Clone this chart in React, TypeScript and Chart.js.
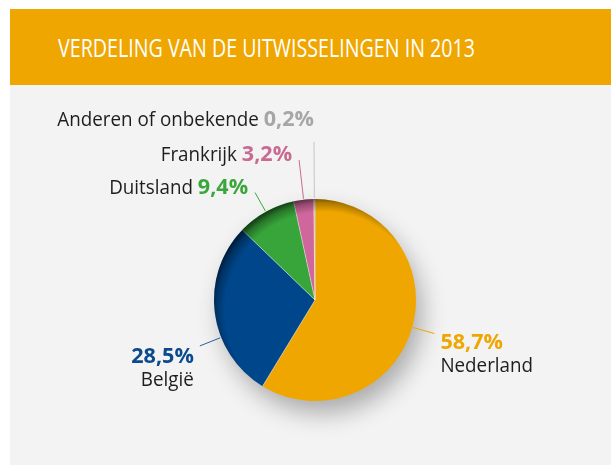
import React, { useEffect, useRef } from 'react';
import { Chart, registerables } from 'chart.js';
Chart.register(...registerables);

const countries = ['Nederland', 'België', 'Duitsland', 'Frankrijk', 'Anderen of onbekende'];
const shares = [58.7, 28.5, 9.4, 3.2, 0.2];
const shareLabels = ['58,7%', '28,5%', '9,4%', '3,2%', '0,2%'];
const sliceColors = ['#EFA600', '#00468B', '#37A53A', '#D0679C', '#B4B4B4'];
const shareTextColors = ['#EFA600', '#0B4A8C', '#3AA63C', '#C96A93', '#A6A6A6'];
const lineColors = ['#EFA600', '#2A5F9E', '#3AA63C', '#C96A93', '#C4C4C4'];
const titleText = 'VERDELING VAN DE UITWISSELINGEN IN 2013';

type Layout = { t: number; len: number; mode: string; dx: number; dy: number };
const labelLayout: Layout[] = [
  { t: 0.5, len: 23, mode: 'stackLeft', dx: 6, dy: 16 },
  { t: 0.36, len: 23, mode: 'stackRight', dx: -6, dy: 17 },
  { t: 0.5, len: 22, mode: 'inline', dx: -7, dy: 1 },
  { t: 0.5, len: 40, mode: 'inline', dx: -7, dy: 1 },
  { t: 0.5, len: 57, mode: 'inline', dx: 0, dy: -16 },
];

const FONT = '"Open Sans", "Noto Sans", sans-serif';
const regFont = `20px ${FONT}`;
const boldFont = `bold 22px ${FONT}`;
const regScale = 0.94;
const boldScale = 0.98;
const textDark = '#1E1E1E';

type Run = { text: string; font: string; color: string; sx: number };
function drawRuns(ctx: CanvasRenderingContext2D, runs: Run[], x: number, y: number, align: 'left' | 'right') {
  let total = 0;
  runs.forEach((r) => {
    ctx.font = r.font;
    total += ctx.measureText(r.text).width * r.sx;
  });
  let cx = align === 'right' ? x - total : x;
  ctx.textAlign = 'left';
  ctx.textBaseline = 'alphabetic';
  runs.forEach((r) => {
    ctx.font = r.font;
    ctx.fillStyle = r.color;
    ctx.save();
    ctx.translate(cx, y);
    ctx.scale(r.sx, 1);
    ctx.fillText(r.text, 0, 0);
    ctx.restore();
    cx += ctx.measureText(r.text).width * r.sx;
  });
}

const pieDecor = {
  id: 'pieDecor',
  beforeDatasetsDraw(chart: any) {
    const arc = chart.getDatasetMeta(0).data[0];
    if (!arc) return;
    const { x, y, outerRadius } = arc.getProps(['x', 'y', 'outerRadius'], true);
    const ctx = chart.ctx;
    ctx.save();
    ctx.shadowColor = 'rgba(0,0,0,0.3)';
    ctx.shadowBlur = 24;
    ctx.shadowOffsetX = 7;
    ctx.shadowOffsetY = 13;
    ctx.beginPath();
    ctx.arc(x, y, outerRadius - 1, 0, Math.PI * 2);
    ctx.fillStyle = '#d8d8d8';
    ctx.fill();
    ctx.restore();
  },
  afterDatasetsDraw(chart: any) {
    const meta = chart.getDatasetMeta(0);
    const ctx = chart.ctx;
    const first = meta.data[0];
    if (!first) return;
    const { x: cx, y: cy, outerRadius: r } = first.getProps(['x', 'y', 'outerRadius'], true);

    // separators
    ctx.save();
    ctx.strokeStyle = 'rgba(255,255,255,0.45)';
    ctx.lineWidth = 1;
    meta.data.forEach((a: any) => {
      const p = a.getProps(['startAngle'], true);
      ctx.beginPath();
      ctx.moveTo(cx, cy);
      ctx.lineTo(cx + r * Math.cos(p.startAngle), cy + r * Math.sin(p.startAngle));
      ctx.stroke();
    });
    ctx.restore();

    // rim shading
    ctx.save();
    ctx.beginPath();
    ctx.arc(cx, cy, r, 0, Math.PI * 2);
    ctx.clip();
    const gx = cx + 9, gy = cy + 11;
    const R = r + 13;
    const g = ctx.createRadialGradient(gx, gy, 0, gx, gy, R);
    g.addColorStop(0, 'rgba(0,0,0,0)');
    g.addColorStop(0.87, 'rgba(0,0,0,0)');
    g.addColorStop(0.95, 'rgba(0,0,0,0.28)');
    g.addColorStop(1, 'rgba(0,0,0,0.6)');
    ctx.fillStyle = g;
    ctx.fillRect(cx - r - 2, cy - r - 2, 2 * r + 4, 2 * r + 4);
    ctx.restore();

    // labels with leader lines
    ctx.save();
    meta.data.forEach((a: any, i: number) => {
      const L = labelLayout[i];
      const p = a.getProps(['startAngle', 'endAngle'], true);
      const ang = p.startAngle + (p.endAngle - p.startAngle) * L.t;
      const x1 = cx + (r + 1) * Math.cos(ang);
      const y1 = cy + (r + 1) * Math.sin(ang);
      const x2 = cx + (r + L.len) * Math.cos(ang);
      const y2 = cy + (r + L.len) * Math.sin(ang);
      ctx.strokeStyle = lineColors[i];
      ctx.lineWidth = 1;
      ctx.beginPath();
      ctx.moveTo(x1, y1);
      ctx.lineTo(x2, y2);
      ctx.stroke();
      const pct: Run = { text: shareLabels[i], font: boldFont, color: shareTextColors[i], sx: boldScale };
      const name: Run = { text: countries[i], font: regFont, color: textDark, sx: regScale };
      if (L.mode === 'inline') {
        drawRuns(ctx, [{ ...name, text: countries[i] + ' ' }, pct], x2 + L.dx, y2 + L.dy, 'right');
      } else {
        const align = L.mode === 'stackLeft' ? 'left' : 'right';
        drawRuns(ctx, [pct], x2 + L.dx, y2 + L.dy, align);
        drawRuns(ctx, [name], x2 + L.dx, y2 + L.dy + 23, align);
      }
    });
    ctx.restore();
  },
};

export default function App() {
  const canvasRef = useRef<HTMLCanvasElement | null>(null);
  const titleRef = useRef<HTMLSpanElement | null>(null);

  useEffect(() => {
    const t = titleRef.current;
    if (t) {
      const w = t.getBoundingClientRect().width;
      if (w > 0) t.style.transform = `scaleX(${417 / w})`;
    }
    const canvas = canvasRef.current;
    if (!canvas) return;
    const chart = new Chart(canvas, {
      type: 'pie',
      data: {
        labels: countries,
        datasets: [
          {
            data: shares,
            backgroundColor: sliceColors,
            borderWidth: 0,
          },
        ],
      },
      options: {
        responsive: false,
        animation: false,
        layout: { padding: { left: 214, right: 195, top: 199, bottom: 64 } },
        plugins: {
          legend: { display: false },
          tooltip: { enabled: false },
          title: { display: false },
        },
        events: [],
      },
      plugins: [pieDecor],
    });
    return () => chart.destroy();
  }, []);

  return (
    <div style={{ position: 'absolute', left: 0, top: 0, width: 611, height: 465, background: '#ffffff', overflow: 'hidden' }}>
      <div style={{ position: 'absolute', left: 10, top: 9, width: 601, height: 456, background: '#F3F3F3' }} />
      <div style={{ position: 'absolute', left: 10, top: 9, width: 601, height: 76, background: '#EFA600' }} />
      <span
        ref={titleRef}
        style={{
          position: 'absolute',
          left: 58,
          top: 35,
          fontFamily: FONT,
          fontSize: 25,
          lineHeight: '25px',
          color: '#ffffff',
          whiteSpace: 'nowrap',
          transformOrigin: '0 0',
        }}
      >
        {titleText}
      </span>
      <canvas ref={canvasRef} width={611} height={465} style={{ position: 'absolute', left: 0, top: 0 }} />
    </div>
  );
}
